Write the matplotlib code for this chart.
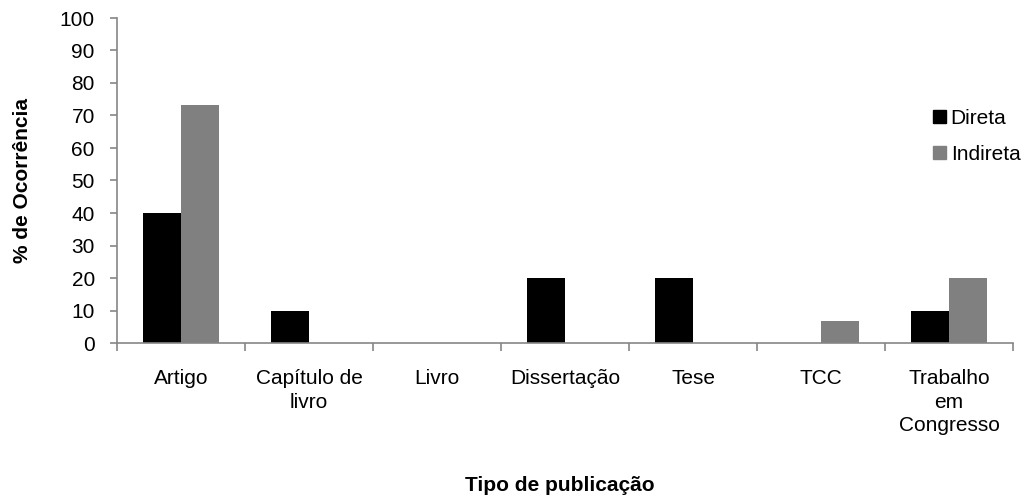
import matplotlib
matplotlib.use('Agg')
import matplotlib.pyplot as plt
import numpy as np
from matplotlib.patches import Patch

plt.rcParams['font.family'] = ['Liberation Sans', 'DejaVu Sans']

categorias = ['Artigo', 'Capítulo de\nlivro', 'Livro', 'Dissertação', 'Tese', 'TCC',
              'Trabalho\nem\nCongresso']
direta = [40, 10, 0, 20, 20, 0, 10]
indireta = [73.3, 0, 0, 0, 0, 6.7, 20]

fs = 15
fig = plt.figure(figsize=(10.25, 4.98), dpi=100)
ax = fig.add_axes([117 / 1025, 1 - 343 / 498, 896 / 1025, 325 / 498])

x = np.arange(len(categorias))
w = 0.297
ax.bar(x - w / 2, direta, w, color='black', label='Direta')
ax.bar(x + w / 2, indireta, w, color='#808080', label='Indireta')

ax.set_xlim(-0.5, len(categorias) - 0.5)
ax.set_ylim(0, 100)
ax.set_yticks(range(0, 101, 10))
ax.tick_params(axis='y', labelsize=fs, colors='#868686', labelcolor='black',
               length=5, width=1.2, pad=11)

# category labels centred, ticks on the category boundaries
ax.set_xticks(x)
ax.set_xticklabels(categorias, fontsize=fs, linespacing=1.3, va='top')
ax.tick_params(axis='x', length=0, pad=19)
ax.set_xticks(np.arange(len(categorias) + 1) - 0.5, minor=True)
ax.tick_params(axis='x', which='minor', length=6, width=1.2, colors='#868686')

for s in ['top', 'right']:
    ax.spines[s].set_visible(False)
for s in ['left', 'bottom']:
    ax.spines[s].set_color('#868686')
    ax.spines[s].set_linewidth(1.2)

ax.set_ylabel('% de Ocorrência', fontsize=fs, fontweight='bold')
ax.yaxis.set_label_coords(-85 / 896, 0.5)
fig.text(560 / 1025, 1 - 485 / 498, 'Tipo de publicação',
         fontsize=fs, fontweight='bold', ha='center', va='center')

handles = [Patch(color='black', label='Direta'), Patch(color='#808080', label='Indireta')]
fig.legend(handles=handles, loc='upper left', bbox_to_anchor=(933 / 1025, 1 - 109 / 498),
           frameon=False, fontsize=fs, handlelength=0.6, handleheight=0.6,
           handletextpad=0.25, labelspacing=0.8, borderpad=0, borderaxespad=0)

fig.savefig('out.png', dpi=100)
